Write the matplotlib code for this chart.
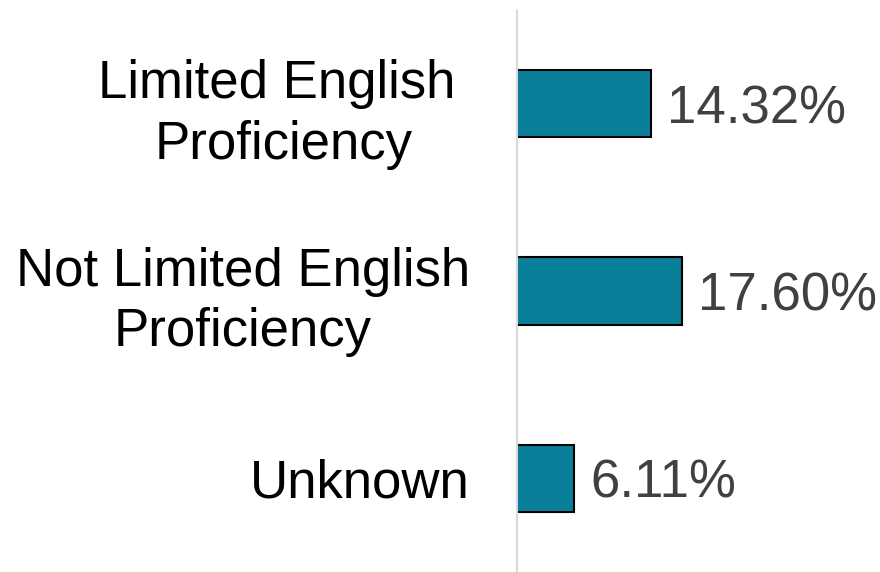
import matplotlib.pyplot as plt

categories = ['Limited English \nProficiency', 'Not Limited English\nProficiency', 'Unknown']
rates = [14.32, 17.60, 6.11]
value_labels = ['14.32%', '17.60%', '6.11%']

plt.rcParams['font.family'] = ['Liberation Sans', 'DejaVu Sans']

fig = plt.figure(figsize=(8.8, 5.72), dpi=100)
ax = fig.add_axes([0.5875, 0.0, 0.4125, 0.9825])

y = list(range(len(categories)))
ax.barh(y, rates, height=0.36, color='#0A7F99', edgecolor='black', linewidth=1.5)

# percentage labels just past the bar ends
for yi, v, lab in zip(y, rates, value_labels):
    ax.text(v + 1.7, yi, lab, va='center_baseline', ha='left', fontsize=38, color='#404040')

ax.set_xlim(0, 38.8)
ax.set_ylim(2.5, -0.5)
ax.set_yticks(y)
ax.set_yticklabels(categories, fontsize=38, multialignment='center', linespacing=1.28)
ax.tick_params(axis='y', length=0, pad=34)
ax.set_xticks([])

for side in ['top', 'right', 'bottom']:
    ax.spines[side].set_visible(False)
ax.spines['left'].set_color('#d9d9d9')
ax.spines['left'].set_linewidth(1.5)

fig.savefig('out.png', dpi=100)
